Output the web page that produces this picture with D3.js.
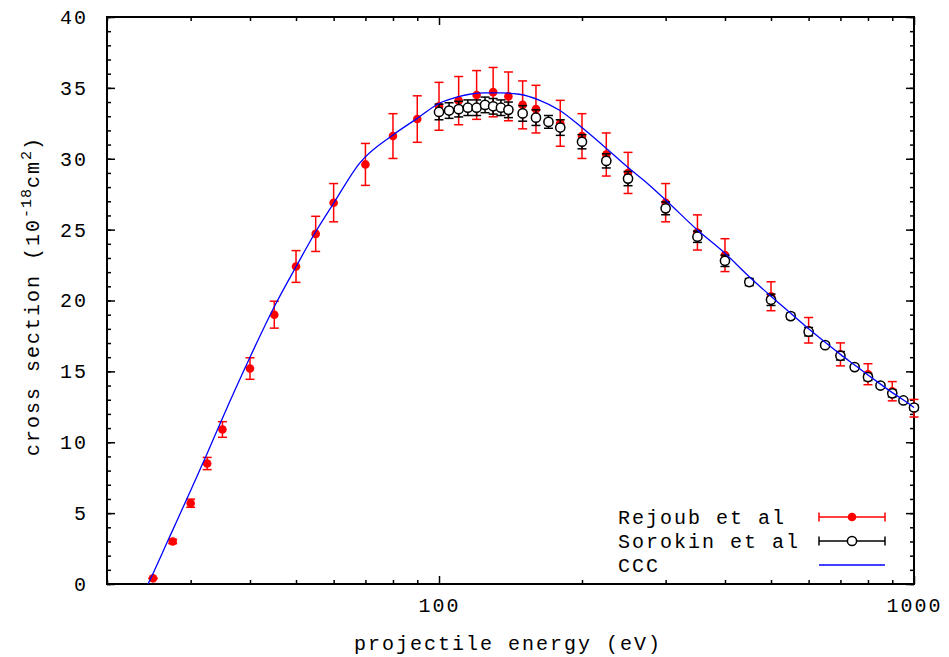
<!DOCTYPE html>
<html><head><meta charset="utf-8">
<script src="https://cdn.jsdelivr.net/npm/d3@7"></script>
<style>
body{margin:0;background:#fff}
svg text{font-family:"Liberation Mono","Courier New",monospace;font-size:20px;letter-spacing:2px;fill:#000}
</style></head>
<body><svg id="c" width="949" height="657"></svg>
<script>
// Rejoub et al (red, filled)
const rejE   = [25,27.5,30,32.5,35,40,45,50,55,60,70,80,90,100,110,120,130,140,150,160,180,200,225,250,300,350,400,500,600,700,800,900,1000];
const rejV   = [0.4,3.0,5.7,8.5,10.9,15.2,19.0,22.4,24.7,26.9,29.6,31.6,32.8,33.7,34.1,34.5,34.7,34.4,33.8,33.5,32.5,31.6,30.3,29.0,26.9,24.8,23.2,20.3,17.9,16.2,14.8,13.6,12.4];
const rejErr = [0.02,0.15,0.29,0.43,0.55,0.76,0.95,1.12,1.24,1.35,1.48,1.58,1.64,1.69,1.7,1.72,1.74,1.72,1.69,1.68,1.62,1.58,1.52,1.45,1.35,1.24,1.16,1.02,0.9,0.81,0.74,0.68,0.62];
// Sorokin et al (black, open)
const sorE   = [100,105,110,115,120,125,130,135,140,150,160,170,180,200,225,250,300,350,400,450,500,550,600,650,700,750,800,850,900,950,1000];
const sorV   = [33.3,33.4,33.5,33.6,33.6,33.8,33.7,33.6,33.45,33.2,32.9,32.6,32.2,31.2,29.85,28.6,26.5,24.5,22.8,21.3,20.05,18.9,17.8,16.85,16.1,15.3,14.6,14.0,13.45,12.95,12.45];
const sorErr = [0.55,0.55,0.55,0.55,0.55,0.55,0.55,0.55,0.55,0.55,0.55,0.45,0.55,0.5,0.5,0.5,0.45,0.4,0.4,0.25,0.4,0.2,0.3,0.15,0.3,0.15,0.25,0.15,0.25,0.15,0.2];
// CCC theory (blue line)
const cccE = [24.4,25,26,27.5,30,32.5,35,40,45,50,55,60,68,80,90,100,110,116,125,135,147.5,162.5,179,199,223,249,277,300,350,400,450,500,550,600,650,700,750,800,850,900,950,1000];
const cccV = [0,0.74,2.0,3.8,6.6,9.2,11.7,16.0,19.56,22.38,24.85,26.86,29.68,31.68,32.85,33.9,34.38,34.55,34.65,34.65,34.55,34.14,33.44,32.26,30.85,29.43,28.15,27.09,24.97,23.33,21.68,20.3,19.1,18.0,17.05,16.2,15.45,14.75,14.1,13.5,12.98,12.45];
// ticks
const yMajor = [0,5,10,15,20,25,30,35,40];
const yMinor = d3.range(0,41,1);
const xMajor = [100,1000];
const xMinor = [20,30,40,50,60,70,80,90,200,300,400,500,600,700,800,900];
const xLabels = {100:"100",1000:"1000"};

const L=107,R=914,T=17,B=584;
const svg=d3.select("#c");
const x=d3.scaleLog().domain([20,1000]).range([L,R]);
const y=d3.scaleLinear().domain([0,40]).range([B,T]);

function styleAxis(g){g.select(".domain").remove();g.selectAll(".tick line").attr("stroke","#000").attr("stroke-width",1.5);g.selectAll(".tick text").attr("font-family",null).attr("font-size",null);}
svg.append("g").attr("transform",`translate(${L},0)`).call(d3.axisLeft(y).tickValues(yMajor).tickSize(-8).tickPadding(19).tickFormat(d3.format("d"))).call(styleAxis);
svg.append("g").attr("transform",`translate(${L},0)`).call(d3.axisLeft(y).tickValues(yMinor).tickSize(-4).tickFormat("")).call(styleAxis);
svg.append("g").attr("transform",`translate(${R},0)`).call(d3.axisRight(y).tickValues(yMajor).tickSize(-8).tickFormat("")).call(styleAxis);
svg.append("g").attr("transform",`translate(${R},0)`).call(d3.axisRight(y).tickValues(yMinor).tickSize(-4).tickFormat("")).call(styleAxis);
svg.append("g").attr("transform",`translate(0,${B})`).call(d3.axisBottom(x).tickValues(xMajor).tickSize(-8).tickPadding(14).tickFormat(d=>xLabels[d])).call(styleAxis);
svg.append("g").attr("transform",`translate(0,${B})`).call(d3.axisBottom(x).tickValues(xMinor).tickSize(-4).tickFormat("")).call(styleAxis);
svg.append("g").attr("transform",`translate(0,${T})`).call(d3.axisTop(x).tickValues(xMajor).tickSize(-8).tickFormat("")).call(styleAxis);
svg.append("g").attr("transform",`translate(0,${T})`).call(d3.axisTop(x).tickValues(xMinor).tickSize(-4).tickFormat("")).call(styleAxis);
svg.selectAll(".tick text").style("font-size","20px");

// frame
svg.append("rect").attr("x",L).attr("y",T).attr("width",R-L).attr("height",B-T).attr("fill","none").attr("stroke","#000").attr("stroke-width",2);

// axis titles
svg.append("text").attr("x",508).attr("y",650).attr("text-anchor","middle").text("projectile energy (eV)");
const yt=svg.append("text").attr("transform","translate(39,296) rotate(-90)").attr("text-anchor","middle");
yt.append("tspan").text("cross section (10");
yt.append("tspan").attr("dy",-8).style("font-size","15px").style("letter-spacing","1px").text("-18");
yt.append("tspan").attr("dy",8).text("cm");
yt.append("tspan").attr("dy",-8).style("font-size","15px").style("letter-spacing","1px").text("2");
yt.append("tspan").attr("dy",8).text(")");

const cap=4.5;
function errBars(g,E,V,Er,color){
  const d=E.map((e,i)=>({e,v:V[i],er:Er[i]}));
  const gg=g.append("g").attr("stroke",color).attr("stroke-width",1.5);
  gg.selectAll(".v").data(d).join("line").attr("x1",p=>x(p.e)).attr("x2",p=>x(p.e)).attr("y1",p=>y(p.v-p.er)).attr("y2",p=>y(p.v+p.er));
  gg.selectAll(".t").data(d).join("line").attr("x1",p=>x(p.e)-cap).attr("x2",p=>x(p.e)+cap).attr("y1",p=>y(p.v+p.er)).attr("y2",p=>y(p.v+p.er));
  gg.selectAll(".b").data(d).join("line").attr("x1",p=>x(p.e)-cap).attr("x2",p=>x(p.e)+cap).attr("y1",p=>y(p.v-p.er)).attr("y2",p=>y(p.v-p.er));
  return d;
}
const plot=svg.append("g");
const rd=errBars(plot,rejE,rejV,rejErr,"#ff0000");
plot.append("g").selectAll("circle").data(rd).join("circle").attr("cx",p=>x(p.e)).attr("cy",p=>y(p.v)).attr("r",4.3).attr("fill","#ff0000");
const sd=errBars(plot,sorE,sorV,sorErr,"#000");
plot.append("g").selectAll("circle").data(sd).join("circle").attr("cx",p=>x(p.e)).attr("cy",p=>y(p.v)).attr("r",4.6).attr("fill","#fff").attr("stroke","#000").attr("stroke-width",1.5);
const line=d3.line().x(d=>x(d[0])).y(d=>y(d[1])).curve(d3.curveMonotoneX);
plot.append("path").datum(cccE.map((e,i)=>[e,cccV[i]])).attr("d",line).attr("fill","none").attr("stroke","#0000ff").attr("stroke-width",1.3);

// legend
const lg=svg.append("g");
const lx1=819,lx2=885,lm=852;
const items=[{t:"Rejoub et al",c:"#ff0000",y:517,k:"f"},{t:"Sorokin et al",c:"#000",y:541,k:"o"},{t:"CCC",c:"#0000ff",y:565,k:"l"}];
items.forEach(it=>{
  lg.append("text").attr("x",618).attr("y",it.y).attr("dy","0.35em").text(it.t);
  lg.append("line").attr("x1",lx1).attr("x2",lx2).attr("y1",it.y).attr("y2",it.y).attr("stroke",it.c).attr("stroke-width",it.k==="l"?1.3:1.5);
  if(it.k!=="l"){
    [lx1,lx2].forEach(xx=>lg.append("line").attr("x1",xx).attr("x2",xx).attr("y1",it.y-cap).attr("y2",it.y+cap).attr("stroke",it.c).attr("stroke-width",1.5));
    if(it.k==="f") lg.append("circle").attr("cx",lm).attr("cy",it.y).attr("r",4.3).attr("fill",it.c);
    else lg.append("circle").attr("cx",lm).attr("cy",it.y).attr("r",4.6).attr("fill","#fff").attr("stroke","#000").attr("stroke-width",1.5);
  }
});
</script></body></html>
